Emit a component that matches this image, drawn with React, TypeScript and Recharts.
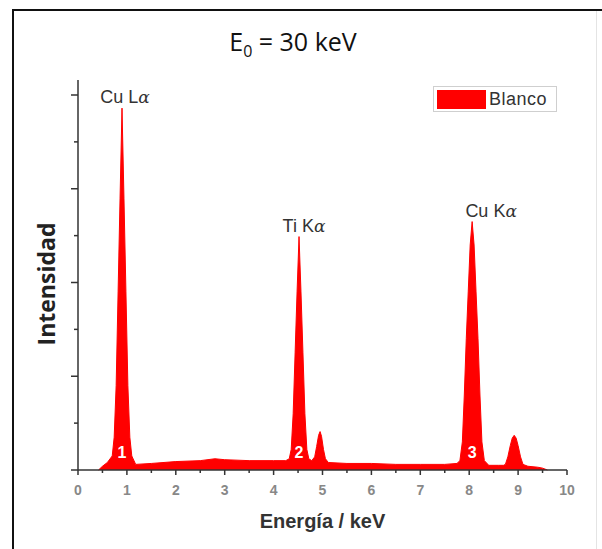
import React from 'react';
import { ComposedChart, Area, Scatter, XAxis, YAxis } from 'recharts';

// EDS spectrum (energy in keV, intensity in arbitrary units)
const ENERGY = [
  0.42, 0.5, 0.6, 0.7, 0.74, 0.78, 0.82, 0.86, 0.9, 0.94, 0.98, 1.02, 1.06, 1.1, 1.18,
  1.5, 2.0, 2.5, 2.8, 3.0, 3.5, 4.0, 4.25,
  4.32, 4.36, 4.4, 4.44, 4.48, 4.52, 4.56, 4.6, 4.64, 4.68, 4.72, 4.78,
  4.84, 4.88, 4.92, 4.95, 4.98, 5.02, 5.06, 5.12,
  5.5, 6.0, 6.5, 7.0, 7.5, 7.75,
  7.81, 7.86, 7.9, 7.94, 7.98, 8.02, 8.06, 8.1, 8.14, 8.18, 8.22, 8.26, 8.31,
  8.4, 8.6, 8.7,
  8.74, 8.79, 8.84, 8.88, 8.92, 8.96, 9.0, 9.05, 9.1,
  9.2, 9.4, 9.5, 9.6,
];
const INTENSITY = [
  0, 0.04, 0.08, 0.15, 0.35, 0.9, 1.9, 2.9, 3.86, 2.9, 1.9, 0.9, 0.35, 0.15, 0.06,
  0.07, 0.09, 0.1, 0.12, 0.11, 0.1, 0.1, 0.1,
  0.12, 0.22, 0.6, 1.25, 1.9, 2.49, 1.9, 1.25, 0.6, 0.22, 0.12, 0.1,
  0.14, 0.25, 0.37, 0.41, 0.36, 0.22, 0.12, 0.08,
  0.07, 0.07, 0.06, 0.06, 0.06, 0.07,
  0.1, 0.3, 0.8, 1.4, 1.9, 2.4, 2.65, 2.4, 1.9, 1.4, 0.8, 0.3, 0.1,
  0.05, 0.05, 0.05,
  0.06, 0.14, 0.26, 0.34, 0.37, 0.34, 0.26, 0.14, 0.06,
  0.04, 0.03, 0.02, 0,
];

const PEAK_NAMES = ['Cu L', 'Ti K', 'Cu K'];
const PEAK_ENERGY = [0.9, 4.52, 8.06];
const PEAK_HEIGHT = [3.86, 2.49, 2.65];
const PEAK_NUMBER = ['1', '2', '3'];

const X_TICKS = [0, 0.5, 1, 1.5, 2, 2.5, 3, 3.5, 4, 4.5, 5, 5.5, 6, 6.5, 7, 7.5, 8, 8.5, 9, 9.5, 10];
const Y_TICKS = [0, 0.5, 1, 1.5, 2, 2.5, 3, 3.5, 4];

const spectrum = ENERGY.map((e, i) => ({ energy: e, intensity: INTENSITY[i] }));
const peaks = PEAK_ENERGY.map((e, i) => ({
  energy: e,
  intensity: PEAK_HEIGHT[i],
  name: PEAK_NAMES[i],
  num: PEAK_NUMBER[i],
}));

const LABEL_DX = [3, 5, 19];
const RED = '#ff0000';
const AXIS = '#333';
const SANS = "'Liberation Sans', Arial, sans-serif";

const XTick = (props: any) => {
  const { x, y, payload } = props;
  const major = payload.value % 1 === 0;
  return (
    <g>
      <line x1={x} x2={x} y1={y} y2={y + (major ? 5 : 3)} stroke={AXIS} strokeWidth={1.5} />
      {major && (
        <text x={x} y={y + 25} textAnchor="middle" fontSize={14} fontWeight="bold"
          fill="#888" fontFamily={SANS}>
          {payload.value}
        </text>
      )}
    </g>
  );
};

const YTick = (props: any) => {
  const { x, y, payload } = props;
  const major = payload.value % 1 === 0;
  return <line x1={x} x2={x - (major ? 7 : 4)} y1={y} y2={y} stroke={AXIS} strokeWidth={1.5} />;
};

const PeakMark = (props: any) => {
  const { cx, cy, payload, index } = props;
  const baseY = cy + (PEAK_HEIGHT[index] - 0.19) * 93.75;
  return (
    <g>
      <text x={cx + LABEL_DX[index]} y={cy - 5} textAnchor="middle" fontSize={18}
        fill="#333" fontFamily={SANS}>
        {payload.name}
        <tspan fontFamily="'DejaVu Serif', serif" fontStyle="italic" fontSize={17}>α</tspan>
      </text>
      <text x={cx} y={baseY + 6} textAnchor="middle" fontSize={16} fontWeight="bold"
        fill="#fff" fontFamily={SANS}>
        {payload.num}
      </text>
    </g>
  );
};

export default function App() {
  return (
    <div style={{ position: 'relative', width: 602, height: 549, background: '#fff', overflow: 'hidden' }}>
      <style>{'body{margin:0}'}</style>
      <div style={{ position: 'absolute', left: 12, top: 9, right: 0, height: 2, background: '#111' }} />
      <div style={{ position: 'absolute', left: 12, top: 9, bottom: 0, width: 2, background: '#111' }} />
      <div style={{ position: 'absolute', left: 596, top: 11, bottom: 0, width: 1, background: '#e4e4e4' }} />
      <div style={{
        position: 'absolute', left: 0, width: 586, top: 24, textAlign: 'center',
        fontFamily: "'Open Sans', sans-serif", fontSize: 25, color: '#111',
      }}>
        E<sub style={{ fontSize: 16 }}>0</sub> = 30 keV
      </div>
      <div style={{
        position: 'absolute', left: 46, top: 284, transform: 'translate(-50%, -50%) rotate(-90deg)',
        fontFamily: "'Open Sans', sans-serif", fontWeight: 'bold', fontSize: 23, color: '#222',
        whiteSpace: 'nowrap',
      }}>
        Intensidad
      </div>
      <div style={{
        position: 'absolute', left: 433, top: 86, width: 124, height: 26, border: '1px solid #cfcfcf',
        display: 'flex', alignItems: 'center', boxSizing: 'border-box',
      }}>
        <div style={{ width: 49, height: 19, background: RED, marginLeft: 3 }} />
        <span style={{ marginLeft: 3, fontFamily: SANS, fontSize: 18, color: '#333', letterSpacing: 0.5 }}>
          Blanco
        </span>
      </div>
      <div style={{ position: 'absolute', left: 0, top: 0 }}>
        <ComposedChart width={602} height={549} data={spectrum}
          margin={{ top: 80, right: 35, bottom: 17, left: 77 }}>
          <XAxis dataKey="energy" type="number" domain={[0, 10]} ticks={X_TICKS} interval={0}
            tickLine={false} tickSize={0} tickMargin={0} tick={<XTick />} height={62}
            axisLine={{ stroke: AXIS, strokeWidth: 1.5 }}
            label={{ value: 'Energía / keV', position: 'insideBottom', offset: 4, fontSize: 20, fontWeight: 'bold',
              fill: '#333', fontFamily: SANS }} />
          <XAxis xAxisId="top" orientation="top" dataKey="energy" type="number" domain={[0, 10]}
            height={0} tick={false} tickLine={false} axisLine={{ stroke: AXIS, strokeWidth: 1.5 }} />
          <YAxis type="number" domain={[0, 4.16]} ticks={Y_TICKS} interval={0} width={1}
            tickLine={false} tickSize={0} tickMargin={0} tick={<YTick />}
            axisLine={{ stroke: AXIS, strokeWidth: 1.5 }} />
          <YAxis yAxisId="right" orientation="right" type="number" domain={[0, 4.16]} width={0}
            tick={false} tickLine={false} axisLine={{ stroke: AXIS, strokeWidth: 1.5 }} />
          <Area type="linear" dataKey="intensity" stroke={RED} strokeWidth={1} fill={RED} fillOpacity={1}
            isAnimationActive={false} />
          <Scatter data={peaks} dataKey="intensity" shape={<PeakMark />} isAnimationActive={false} />
        </ComposedChart>
      </div>
    </div>
  );
}
